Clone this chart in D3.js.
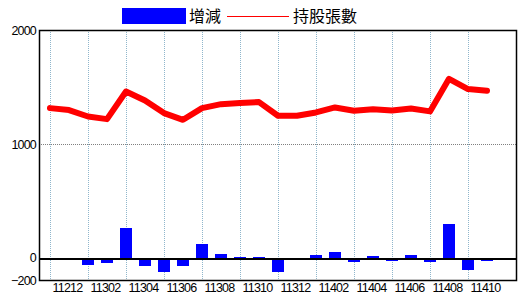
<!DOCTYPE html>
<html>
<head>
<meta charset="utf-8">
<script src="https://cdn.jsdelivr.net/npm/d3@7"></script>
<style>
	body { margin: 0; background: #fff; }
	svg { display: block; }
	.tick text { font-family: "Liberation Sans", Arial, sans-serif; font-size: 12.5px; fill: #000; }
	.legend text { font-family: "Noto Sans CJK TC", sans-serif; font-size: 16px; fill: #000; }
</style>
</head>
<body>
<svg id="chart" width="520" height="300"></svg>
<script>
var months = ['11212','11301','11302','11303','11304','11305','11306','11307','11308','11309','11310','11311',
	'11312','11401','11402','11403','11404','11405','11406','11407','11408','11409','11410','11411'];
var holdings = [1317,1300,1243,1220,1463,1384,1273,1214,1317,1352,1361,1370,
	1250,1250,1279,1323,1294,1308,1296,1314,1288,1575,1485,1470];
var changes = [0,0,-53,-41,264,-68,-120,-68,123,35,9,9,
	-120,0,26,53,-32,18,-15,26,-32,299,-97,-15];
var yTicks = [2000, 1000, 0, -200];
var xLabels = months.filter(function(d, i){ return i % 2 == 0 });

var plotL = 39, plotR = 516, plotT = 30, plotB = 280;
var svg = d3.select('#chart');

var x = d3.scalePoint()
	.domain(months)
	.range([50, 487]);
var y = d3.scaleLinear()
	.domain([-200, 2000])
	.range([plotB + 0.5, plotT + 0.5]);

// grid
svg.append('g')
	.selectAll('line')
	.data(xLabels)
	.enter()
	.append('line')
	.attr('x1', function(d){ return Math.round(x(d)) + 0.5 })
	.attr('x2', function(d){ return Math.round(x(d)) + 0.5 })
	.attr('y1', plotT)
	.attr('y2', plotB)
	.attr('stroke', '#8fb6cc')
	.attr('stroke-dasharray', '1,1');
svg.append('line')
	.attr('x1', plotL).attr('x2', plotR)
	.attr('y1', Math.round(y(1000)) + 0.5)
	.attr('y2', Math.round(y(1000)) + 0.5)
	.attr('stroke', '#808080')
	.attr('stroke-dasharray', '1,1');

// zero line
var y0 = Math.round(y(0));
svg.append('line')
	.attr('x1', plotL).attr('x2', plotR)
	.attr('y1', y0 + 1)
	.attr('y2', y0 + 1)
	.attr('stroke', '#000')
	.attr('stroke-width', 2);

// bars
svg.append('g')
	.selectAll('rect')
	.data(changes)
	.enter()
	.append('rect')
	.attr('x', function(d, i){ return Math.round(x(months[i])) - 6 })
	.attr('width', 12)
	.attr('y', function(d){ return d >= 0 ? Math.round(y(d)) : y0 + 2 })
	.attr('height', function(d){
		if (d == 0) return 0;
		return d > 0 ? y0 - Math.round(y(d)) : Math.max(1, Math.round(y(d)) - y0 - 1) })
	.attr('fill', '#0000ff')
	.attr('shape-rendering', 'crispEdges');

// holdings line
var linegen = d3.line()
	.x(function(d, i){ return x(months[i]) })
	.y(function(d){ return y(d) });
svg.append('path')
	.datum(holdings)
	.attr('d', linegen)
	.attr('fill', 'none')
	.attr('stroke', '#ff0000')
	.attr('stroke-width', 6)
	.attr('stroke-linejoin', 'round')
	.attr('stroke-linecap', 'round');

// frame
svg.append('rect')
	.attr('x', plotL + 0.5).attr('y', plotT + 0.5)
	.attr('width', plotR - plotL).attr('height', plotB - plotT)
	.attr('fill', 'none')
	.attr('stroke', '#000')
	.attr('stroke-width', 1.5);

// axes
var yAxis = svg.append('g')
	.attr('transform', 'translate(' + (plotL - 3) + ',0)')
	.call(d3.axisLeft(y).tickValues(yTicks).tickSize(0).tickPadding(0).tickFormat(d3.format('d')));
yAxis.select('.domain').remove();
yAxis.selectAll('text').attr('letter-spacing', '-0.8px');

var xAxis = svg.append('g')
	.attr('transform', 'translate(0,' + (plotB + 1) + ')')
	.call(d3.axisBottom(x).tickValues(xLabels).tickSize(0).tickPadding(2));
xAxis.select('.domain').remove();
xAxis.selectAll('text')
	.attr('text-anchor', 'start')
	.attr('dx', '2px')
	.attr('letter-spacing', '-0.8px');

// legend
var legend = svg.append('g').attr('class', 'legend');
legend.append('rect')
	.attr('x', 122).attr('y', 8)
	.attr('width', 64).attr('height', 16)
	.attr('fill', '#0000ff');
legend.append('text')
	.attr('x', 189).attr('y', 22)
	.text('增減');
legend.append('line')
	.attr('x1', 227).attr('x2', 289)
	.attr('y1', 16.5).attr('y2', 16.5)
	.attr('stroke', '#ff0000');
legend.append('text')
	.attr('x', 293).attr('y', 22)
	.text('持股張數');
</script>
</body>
</html>
